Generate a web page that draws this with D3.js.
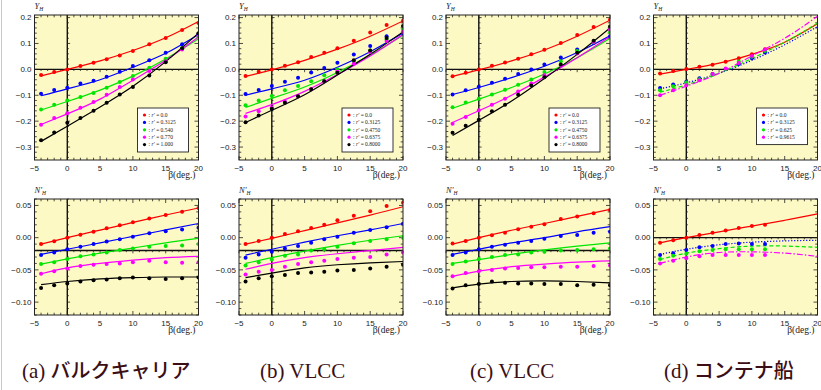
<!DOCTYPE html>
<html>
<head>
<meta charset="utf-8">
<script src="https://cdn.jsdelivr.net/npm/d3@7"></script>
<style>
  body { margin: 0; background: #fff; }
  svg { display: block; }
</style>
</head>
<body>
<svg id="chart" width="821" height="390"></svg>
<script>
// beta values where the measured points sit
const betaPts = [-4, -2, 0, 2, 4, 6, 8, 10, 12.5, 15, 17.5, 20];
const betaPtsD = [-4, -2, 0, 2, 4, 6, 8, 10, 12];
const betaFit = [-4, 0, 5, 10, 15, 20];

const xTicks = [-5, 0, 5, 10, 15, 20];
const yTicksTop = [-0.3, -0.2, -0.1, 0.0, 0.1, 0.2];
const yTicksBot = [-0.10, -0.05, 0.00, 0.05];

const colors = ["#ff0000", "#0000ff", "#00e600", "#ff00ff", "#000000"];

const legendA = ["0.0", "0.3125", "0.540", "0.770", "1.000"];
const legendB = ["0.0", "0.3125", "0.4750", "0.6375", "0.8000"];
const legendC = ["0.0", "0.3125", "0.4750", "0.6375", "0.8000"];
const legendD = ["0.0", "0.3125", "0.625", "0.9615"];

const captions = ["(a) ", "(b) VLCC", "(c) VLCC", "(d) "];
const captionsJa = ["バルクキャリア", "", "", "コンテナ船"];

// Y'H, measured (red, blue, green, magenta, black)
const yA_pts = [
  [-0.022,-0.010,0.0,0.013,0.026,0.039,0.054,0.071,0.097,0.121,0.152,0.179],
  [-0.094,-0.080,-0.071,-0.055,-0.044,-0.028,-0.009,0.013,0.035,0.064,0.097,0.134],
  [-0.155,-0.137,-0.120,-0.107,-0.091,-0.071,-0.049,-0.026,0.006,0.041,0.082,0.122],
  [-0.214,-0.188,-0.169,-0.148,-0.126,-0.098,-0.068,-0.039,-0.006,0.031,0.077,0.129],
  [-0.274,-0.244,-0.206,-0.188,-0.160,-0.129,-0.097,-0.068,-0.024,0.028,0.082,0.140]
];
const yA_fit = [
  [-0.025,0.0,0.033,0.073,0.122,0.185],
  [-0.102,-0.075,-0.040,0.008,0.062,0.135],
  [-0.157,-0.124,-0.080,-0.026,0.040,0.118],
  [-0.213,-0.172,-0.115,-0.042,0.035,0.125],
  [-0.278,-0.220,-0.145,-0.065,0.030,0.140]
];
const yB_pts = [
  [-0.026,-0.009,0.0,0.014,0.028,0.048,0.064,0.082,0.111,0.142,0.171,0.188],
  [-0.095,-0.080,-0.064,-0.048,-0.032,-0.012,0.005,0.026,0.057,0.090,0.128,0.140],
  [-0.139,-0.120,-0.103,-0.081,-0.064,-0.046,-0.023,0.0,0.030,0.073,0.115,0.155],
  [-0.182,-0.162,-0.148,-0.124,-0.104,-0.077,-0.046,-0.008,0.022,0.067,0.110,0.145],
  [-0.204,-0.178,-0.152,-0.129,-0.104,-0.077,-0.046,-0.013,0.035,0.073,0.121,0.168]
];
const yB_fit = [
  [-0.027,-0.002,0.035,0.078,0.128,0.187],
  [-0.100,-0.075,-0.042,0.008,0.068,0.140],
  [-0.147,-0.112,-0.068,-0.012,0.055,0.132],
  [-0.170,-0.136,-0.085,-0.020,0.052,0.135],
  [-0.205,-0.158,-0.098,-0.022,0.058,0.145]
];
const yC_pts = [
  [-0.027,-0.013,0.0,0.014,0.027,0.041,0.058,0.076,0.102,0.133,0.164,0.192],
  [-0.097,-0.081,-0.067,-0.052,-0.036,-0.018,0.0,0.019,0.046,0.077,0.102,0.128],
  [-0.146,-0.128,-0.113,-0.097,-0.079,-0.059,-0.039,-0.010,0.031,0.071,0.105,0.144],
  [-0.210,-0.184,-0.158,-0.137,-0.113,-0.085,-0.055,-0.023,0.014,0.061,0.106,0.153],
  [-0.245,-0.218,-0.195,-0.162,-0.137,-0.098,-0.062,-0.030,0.019,0.064,0.111,0.166]
];
const yC_fit = [
  [-0.027,-0.002,0.033,0.075,0.128,0.190],
  [-0.097,-0.070,-0.032,0.012,0.065,0.130],
  [-0.150,-0.115,-0.070,-0.018,0.045,0.120],
  [-0.205,-0.160,-0.100,-0.030,0.045,0.127],
  [-0.255,-0.197,-0.122,-0.035,0.058,0.160]
];
const yD_pts = [
  [-0.016,-0.006,0.001,0.010,0.018,0.029,0.043,0.058,0.078],
  [-0.072,-0.058,-0.048,-0.034,-0.018,0.001,0.021,0.043,0.065],
  [-0.081,-0.065,-0.051,-0.038,-0.021,0.001,0.030,0.049,0.071],
  [-0.100,-0.081,-0.061,-0.042,-0.018,0.003,0.025,0.052,0.077]
];
const yD_fit = [
  [-0.018,0.0,0.024,0.058,0.105,0.176],
  [-0.075,-0.052,-0.015,0.035,0.095,0.165],
  [-0.088,-0.060,-0.015,0.042,0.105,0.178],
  [-0.100,-0.065,-0.015,0.052,0.120,0.205]
];

// N'H
const nA_pts = [
  [-0.0097,-0.0056,0.0,0.0046,0.0092,0.0148,0.0194,0.024,0.0297,0.0353,0.0404,0.046],
  [-0.027,-0.023,-0.018,-0.014,-0.010,-0.006,-0.0026,0.0015,0.0067,0.010,0.0128,0.0154],
  [-0.041,-0.038,-0.033,-0.029,-0.026,-0.023,-0.019,-0.017,-0.014,-0.013,-0.012,-0.010],
  [-0.056,-0.052,-0.048,-0.044,-0.042,-0.041,-0.040,-0.038,-0.036,-0.038,-0.039,-0.038],
  [-0.078,-0.074,-0.071,-0.068,-0.066,-0.065,-0.063,-0.062,-0.063,-0.064,-0.063,-0.062]
];
const nA_fit = [
  [-0.010,0.0,0.0118,0.0236,0.0352,0.046],
  [-0.026,-0.018,-0.008,0.002,0.012,0.022],
  [-0.041,-0.033,-0.024,-0.016,-0.008,-0.001],
  [-0.056,-0.047,-0.040,-0.035,-0.031,-0.029],
  [-0.073,-0.068,-0.064,-0.062,-0.061,-0.061]
];
const nB_pts = [
  [-0.010,-0.005,0.0,0.0056,0.010,0.015,0.020,0.027,0.034,0.041,0.049,0.054],
  [-0.031,-0.026,-0.022,-0.017,-0.013,-0.0077,-0.0026,0.0015,0.0077,0.012,0.016,0.0215],
  [-0.043,-0.038,-0.034,-0.028,-0.026,-0.020,-0.018,-0.014,-0.0087,-0.0051,-0.0026,0.0],
  [-0.057,-0.053,-0.050,-0.045,-0.041,-0.038,-0.036,-0.033,-0.031,-0.030,-0.026,-0.023],
  [-0.068,-0.063,-0.060,-0.058,-0.055,-0.054,-0.053,-0.051,-0.050,-0.048,-0.045,-0.042]
];
const nB_fit = [
  [-0.010,-0.001,0.011,0.023,0.035,0.048],
  [-0.027,-0.018,-0.007,0.003,0.012,0.022],
  [-0.040,-0.031,-0.021,-0.012,-0.004,0.003],
  [-0.049,-0.040,-0.031,-0.025,-0.020,-0.015],
  [-0.062,-0.055,-0.047,-0.042,-0.039,-0.037]
];
const nC_pts = [
  [-0.009,-0.005,0.0,0.0036,0.0077,0.013,0.017,0.021,0.029,0.033,0.038,0.043],
  [-0.027,-0.023,-0.018,-0.014,-0.011,-0.008,-0.005,-0.0015,0.0026,0.004,0.0077,0.009],
  [-0.041,-0.037,-0.033,-0.030,-0.027,-0.026,-0.023,-0.022,-0.020,-0.019,-0.018,-0.017],
  [-0.060,-0.055,-0.052,-0.050,-0.048,-0.047,-0.046,-0.046,-0.045,-0.045,-0.044,-0.043],
  [-0.079,-0.074,-0.072,-0.068,-0.070,-0.071,-0.071,-0.072,-0.072,-0.074,-0.073,-0.074]
];
const nC_fit = [
  [-0.010,0.0,0.0115,0.022,0.033,0.044],
  [-0.026,-0.018,-0.008,0.0,0.009,0.017],
  [-0.040,-0.034,-0.026,-0.019,-0.013,-0.008],
  [-0.060,-0.052,-0.045,-0.041,-0.038,-0.036],
  [-0.078,-0.072,-0.068,-0.067,-0.068,-0.070]
];
const nD_pts = [
  [-0.0077,-0.004,0.0,0.004,0.0077,0.011,0.015,0.018,0.020],
  [-0.027,-0.024,-0.019,-0.015,-0.013,-0.010,-0.009,-0.010,-0.010],
  [-0.033,-0.028,-0.025,-0.021,-0.019,-0.018,-0.018,-0.018,-0.018],
  [-0.040,-0.036,-0.032,-0.029,-0.027,-0.027,-0.027,-0.027,-0.027]
];
const nD_fit = [
  [-0.008,0.0,0.009,0.018,0.027,0.037],
  [-0.026,-0.018,-0.011,-0.007,-0.005,-0.004],
  [-0.034,-0.024,-0.017,-0.013,-0.013,-0.015],
  [-0.040,-0.030,-0.023,-0.022,-0.024,-0.029]
];

const svg = d3.select("#chart");
const panelLeft = [34.5, 239, 446, 653.5];
const panelW = 164;
const bg = "#fcf9c4";

// faint border on the far left of the scan
svg.append("line").attr("x1", 1.5).attr("x2", 1.5).attr("y1", 0).attr("y2", 390)
  .attr("stroke", "#c8c8c8").attr("stroke-width", 1);

let clipId = 0;

function drawPanel(o) {
  const x = d3.scaleLinear().domain([-5, 20]).range([o.left, o.left + panelW]);
  const y = d3.scaleLinear().domain(o.yDomain).range([o.bottom, o.top]);
  const g = svg.append("g");

  g.append("rect").attr("x", o.left).attr("y", o.top)
    .attr("width", panelW).attr("height", o.bottom - o.top).attr("fill", bg);

  const id = "clip" + (clipId++);
  g.append("clipPath").attr("id", id).append("rect")
    .attr("x", o.left).attr("y", o.top).attr("width", panelW).attr("height", o.bottom - o.top);

  // axes through the origin
  g.append("line").attr("x1", x(0)).attr("x2", x(0)).attr("y1", o.top).attr("y2", o.bottom)
    .attr("stroke", "#111").attr("stroke-width", 1.4);
  g.append("line").attr("x1", o.left).attr("x2", o.left + panelW)
    .attr("y1", y(o.axisY)).attr("y2", y(o.axisY))
    .attr("stroke", "#111").attr("stroke-width", 1.4);

  const xMinor = d3.range(-5, 20.01, 1);
  const yMinor = d3.range(o.yDomain[0], o.yDomain[1] + 1e-9, o.yMinorStep)
    .map(v => Math.round(v / o.yMinorStep) * o.yMinorStep)
    .filter(v => v >= o.yDomain[0] - 1e-9 && v <= o.yDomain[1] + 1e-9);
  const isMajX = v => Math.abs(v % 5) < 1e-9;
  const isMajY = v => o.yTicks.some(t => Math.abs(t - v) < 1e-9);

  const tk = g.append("g").attr("stroke", "#222").attr("stroke-width", 0.8);
  xMinor.forEach(v => {
    const len = isMajX(v) ? 4 : 2.3;
    tk.append("line").attr("x1", x(v)).attr("x2", x(v)).attr("y1", o.bottom).attr("y2", o.bottom - len);
    tk.append("line").attr("x1", x(v)).attr("x2", x(v)).attr("y1", o.top).attr("y2", o.top + len);
    tk.append("line").attr("x1", x(v)).attr("x2", x(v))
      .attr("y1", y(o.axisY)).attr("y2", y(o.axisY) + len * 0.7);
  });
  yMinor.forEach(v => {
    const len = isMajY(v) ? 4 : 2.3;
    tk.append("line").attr("x1", o.left).attr("x2", o.left + len).attr("y1", y(v)).attr("y2", y(v));
    tk.append("line").attr("x1", o.left + panelW).attr("x2", o.left + panelW - len).attr("y1", y(v)).attr("y2", y(v));
    tk.append("line").attr("x1", x(0)).attr("x2", x(0) + len * 0.7).attr("y1", y(v)).attr("y2", y(v));
  });

  // fitted curves
  const line = d3.line().x(d => x(d[0])).y(d => y(d[1])).curve(d3.curveNatural);
  const curves = g.append("g").attr("clip-path", "url(#" + id + ")");
  o.fit.forEach((vals, i) => {
    curves.append("path")
      .attr("d", line(betaFit.map((b, k) => [b, vals[k]])))
      .attr("fill", "none").attr("stroke", colors[i]).attr("stroke-width", 1.2)
      .attr("stroke-dasharray", o.dashes ? o.dashes[i] : null);
  });

  // measured points
  o.pts.forEach((vals, i) => {
    curves.selectAll(null).data(vals.map((v, k) => [o.xPts[k], v])).enter()
      .append("circle")
      .attr("cx", d => x(d[0])).attr("cy", d => y(d[1])).attr("r", 2)
      .attr("fill", colors[i]);
  });

  // frame
  g.append("rect").attr("x", o.left).attr("y", o.top)
    .attr("width", panelW).attr("height", o.bottom - o.top)
    .attr("fill", "none").attr("stroke", "#222").attr("stroke-width", 1);

  // tick labels
  const lab = g.append("g").attr("font-family", "'Liberation Sans', Arial, sans-serif")
    .attr("font-size", 8).attr("fill", "#222");
  xTicks.forEach(v => {
    lab.append("text").attr("x", x(v)).attr("y", o.bottom + 10.5)
      .attr("text-anchor", "middle").text(d3.format("")(v).replace("-", "\u2212"));
  });
  o.yTicks.forEach(v => {
    lab.append("text").attr("x", o.left - 3).attr("y", y(v) + 2.8)
      .attr("text-anchor", "end").text(d3.format(o.yFmt)(v));
  });

  // axis titles
  g.append("text").attr("x", o.left + panelW - 3).attr("y", o.bottom + 17.5)
    .attr("text-anchor", "end").attr("font-family", "'Liberation Serif', serif")
    .attr("font-size", 9.5).attr("fill", "#222").text("\u03b2(deg.)");
  const yl = g.append("text").attr("x", o.left).attr("y", o.top - 6)
    .attr("font-family", "'Liberation Serif', serif").attr("font-style", "italic")
    .attr("font-size", 8.5).attr("fill", "#222");
  yl.append("tspan").text(o.yLabel);
  yl.append("tspan").attr("font-size", 5.5).attr("dy", 1.8).text("H");

  // legend
  if (o.legend) {
    const lx = o.left + 103, ly = 108, lh = 7.4;
    const lg = g.append("g");
    lg.append("rect").attr("x", lx).attr("y", ly).attr("width", 51)
      .attr("height", o.legend.length * lh + 7)
      .attr("fill", "#fff").attr("stroke", "#222").attr("stroke-width", 0.9);
    o.legend.forEach((s, i) => {
      const cy = ly + 7 + i * lh;
      lg.append("circle").attr("cx", lx + 7).attr("cy", cy).attr("r", 1.6).attr("fill", colors[i]);
      const t = lg.append("text").attr("x", lx + 11).attr("y", cy + 1.8)
        .attr("font-family", "'Liberation Serif', serif").attr("font-size", 5.5).attr("fill", "#222");
      t.append("tspan").text(": ");
      t.append("tspan").attr("font-style", "italic").text("r\u2032");
      t.append("tspan").text(" = " + s);
    });
  }
}

const dashD = [null, "1.2,1.8", "4,2.5", "6,2,1.5,2"];
const topPanels = [
  { pts: yA_pts, fit: yA_fit, legend: legendA },
  { pts: yB_pts, fit: yB_fit, legend: legendB },
  { pts: yC_pts, fit: yC_fit, legend: legendC },
  { pts: yD_pts, fit: yD_fit, legend: legendD, d: true }
];
const botPanels = [
  { pts: nA_pts, fit: nA_fit, axisY: -0.02 },
  { pts: nB_pts, fit: nB_fit, axisY: -0.02 },
  { pts: nC_pts, fit: nC_fit, axisY: -0.02 },
  { pts: nD_pts, fit: nD_fit, axisY: 0, d: true }
];

topPanels.forEach((p, i) => drawPanel({
  left: panelLeft[i], top: 15, bottom: 160, yDomain: [-0.35, 0.21],
  yTicks: yTicksTop, yMinorStep: 0.02, yFmt: ".1f", axisY: 0,
  xPts: p.d ? betaPtsD : betaPts, pts: p.pts, fit: p.fit,
  dashes: p.d ? dashD : null, yLabel: "Y", legend: p.legend
}));
botPanels.forEach((p, i) => drawPanel({
  left: panelLeft[i], top: 199, bottom: 315, yDomain: [-0.12, 0.06],
  yTicks: yTicksBot, yMinorStep: 0.01, yFmt: ".2f", axisY: p.axisY,
  xPts: p.d ? betaPtsD : betaPts, pts: p.pts, fit: p.fit,
  dashes: p.d ? dashD : null, yLabel: "N\u2032", legend: null
}));

// captions under each column
const capX = [22, 260, 470, 664];
captions.forEach((c, i) => {
  const t = svg.append("text").attr("x", capX[i]).attr("y", 378)
    .attr("font-size", 21).attr("fill", "#3a0e14");
  t.append("tspan").attr("font-family", "'Liberation Serif', serif").text(c);
  if (captionsJa[i]) {
    t.append("tspan").attr("font-family", "'Noto Sans CJK JP', sans-serif")
      .attr("font-weight", 500).attr("font-size", 20).text(captionsJa[i]);
  }
});
</script>
</body>
</html>
